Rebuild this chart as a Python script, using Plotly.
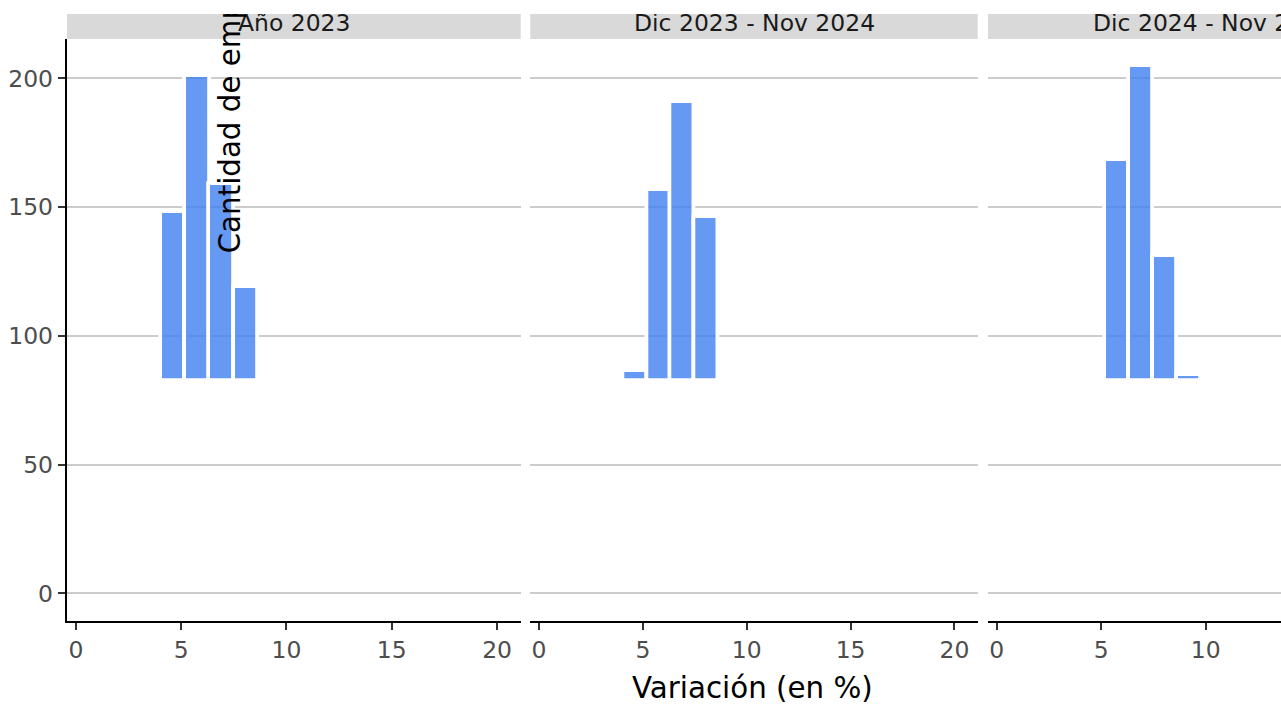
import plotly.graph_objects as go

# ---- data ----
periodos = ["Año 2023", "Dic 2023 - Nov 2024", "Dic 2024 - Nov 2025"]
variacion_p1 = [4.62, 5.77, 6.92, 8.07]
empresas_p1 = [148, 201, 159, 119]
variacion_p2 = [4.62, 5.77, 6.92, 8.07]
empresas_p2 = [86.5, 156.5, 191, 146]
variacion_p3 = [5.77, 6.92, 8.07, 9.22]
empresas_p3 = [168.5, 205, 131, 85]
ancho_bin = 1.153
base_barras = 82.4
x_ticks = [0, 5, 10, 15, 20]
y_ticks = [0, 50, 100, 150, 200]

# ---- layout geometry (page pixels; page top offset 14 px) ----
TOP = 14
W, H = 1470, 704
def px(v):
    return v / W
def py(v):
    return 1 - (v - TOP) / H

panels_px = [(67, 520.7), (530.3, 977.7), (988, 1438)]
y_top, y_bot = 39, 621
xr = [-0.42, 21.12]
yr = [-10.7, 215.3]

FONT = "DejaVu Sans"
TICKSIZE = 23.47
TITLESIZE = 29.33

fig = go.Figure()
xs = [variacion_p1, variacion_p2, variacion_p3]
ys = [empresas_p1, empresas_p2, empresas_p3]
for i in range(3):
    sfx = "" if i == 0 else str(i + 1)
    fig.add_trace(go.Bar(
        x=xs[i],
        y=[v - base_barras for v in ys[i]],
        base=base_barras,
        width=ancho_bin,
        marker=dict(color="rgba(64,128,240,0.8)",
                    line=dict(color="white", width=3.8)),
        xaxis="x" + sfx, yaxis="y" + sfx,
        showlegend=False,
    ))

layout = dict(
    width=W, height=H, autosize=False,
    margin=dict(l=0, r=0, t=0, b=0),
    paper_bgcolor="white", plot_bgcolor="white",
    font=dict(family=FONT, size=TICKSIZE, color="#4d4d4d"),
    bargap=0,
    shapes=[], annotations=[],
)
for i, (a, b) in enumerate(panels_px):
    sfx = "" if i == 0 else str(i + 1)
    layout["xaxis" + sfx] = dict(
        domain=[px(a), px(b)], range=xr, anchor="y" + sfx,
        tickmode="array", tickvals=x_ticks,
        ticks="outside", ticklen=7.3, tickwidth=2, tickcolor="#333333",
        showline=True, linecolor="black", linewidth=2,
        showgrid=False, zeroline=False,
        tickfont=dict(family=FONT, size=TICKSIZE, color="#4d4d4d"),
        fixedrange=True,
    )
    ya = dict(
        domain=[py(y_bot), py(y_top)], range=yr, anchor="x" + sfx,
        tickmode="array", tickvals=y_ticks,
        showgrid=True, gridcolor="#cccccc", gridwidth=2,
        zeroline=False, fixedrange=True,
    )
    if i == 0:
        ya.update(ticks="outside", ticklen=7.3, tickwidth=2, tickcolor="#333333",
                  showline=True, linecolor="black", linewidth=2,
                  tickfont=dict(family=FONT, size=TICKSIZE, color="#4d4d4d"))
    else:
        ya.update(showticklabels=False, ticks="", showline=False)
    layout["yaxis" + sfx] = ya
    # strip
    layout["shapes"].append(dict(
        type="rect", xref="paper", yref="paper",
        x0=px(a), x1=px(b), y0=py(39), y1=py(4),
        fillcolor="#d9d9d9", line=dict(width=0), layer="below",
    ))
    layout["annotations"].append(dict(
        text=periodos[i], xref="paper", yref="paper",
        x=px((a + b) / 2), y=py(23), xanchor="center", yanchor="middle",
        showarrow=False, font=dict(family=FONT, size=TICKSIZE, color="#1a1a1a"),
    ))

layout["annotations"].append(dict(
    text="Variación (en %)", xref="paper", yref="paper",
    x=px((67 + 1438) / 2), y=py(687.7), xanchor="center", yanchor="middle",
    showarrow=False, font=dict(family=FONT, size=TITLESIZE, color="black"),
))
layout["annotations"].append(dict(
    text="Cantidad de empresas", xref="paper", yref="paper",
    x=px(229.9), y=py(88.5), xanchor="center", yanchor="middle",
    textangle=-90,
    showarrow=False, font=dict(family=FONT, size=TITLESIZE, color="black"),
))

fig.update_layout(**layout)
fig.write_html(
    "out.html",
    post_script="document.body.style.margin='14px 0 0 0';"
                "document.documentElement.style.overflow='hidden';",
)
